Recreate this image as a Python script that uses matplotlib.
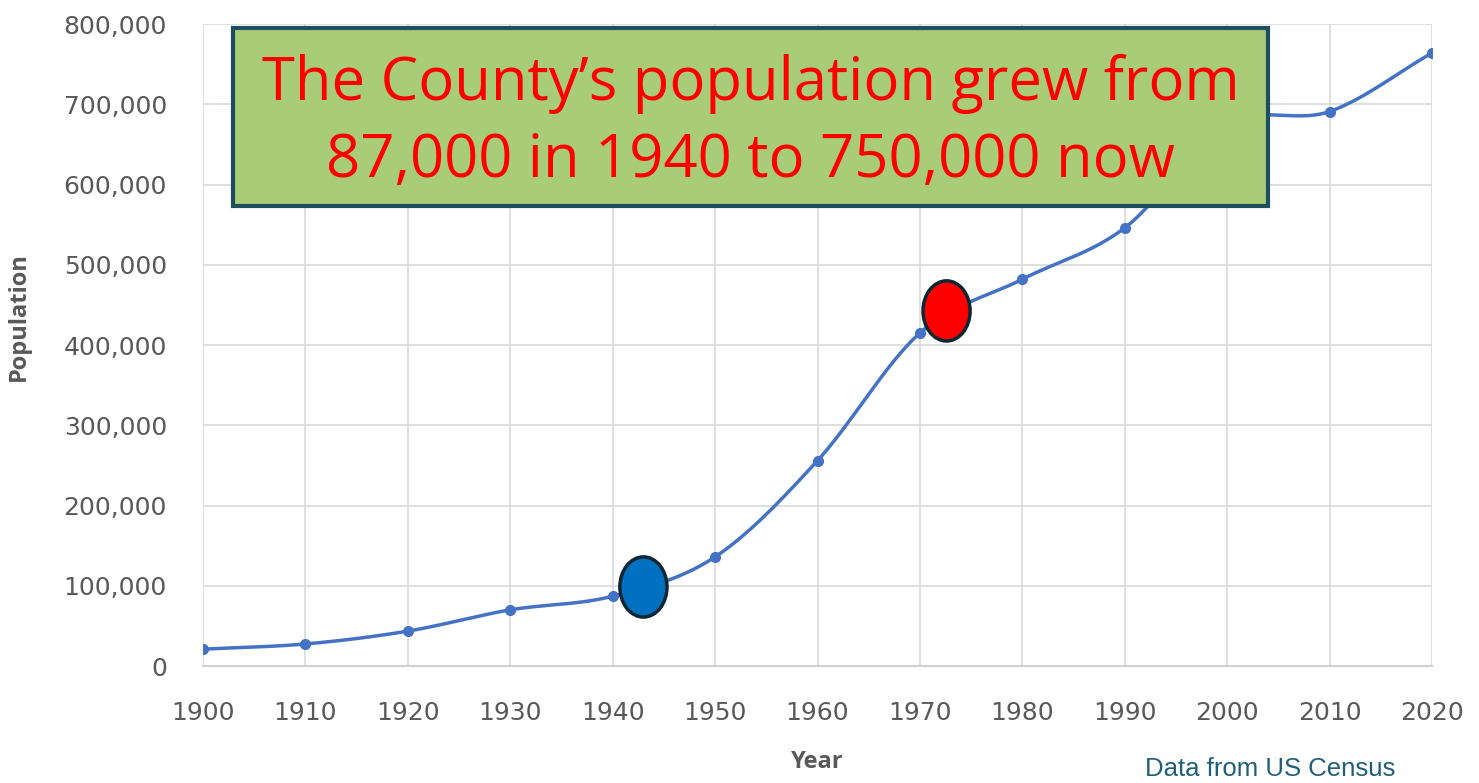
import matplotlib
matplotlib.use("Agg")
import matplotlib.pyplot as plt
from matplotlib.patches import Ellipse, Rectangle
from matplotlib.ticker import FuncFormatter
import numpy as np

years = [1900, 1910, 1920, 1930, 1940, 1950, 1960, 1970, 1980, 1990, 2000, 2010, 2020]
population = [21000, 27500, 43500, 70000, 87000, 136000, 256000, 415000,
              482000, 546000, 675000, 691000, 764000]
y_ticks = [0, 100000, 200000, 300000, 400000, 500000, 600000, 700000, 800000]

# highlight ellipses: (year, population, fill colour)
highlights = [(1943, 98500, "#0070C0"), (1972.6, 442500, "#FF0000")]

callout = "The County\u2019s population grew from\n87,000 in 1940 to 750,000 now"
source_note = "Data from US Census"


def smooth(x, y, n=30):
    # catmull-rom style curve through the points, like Excel's smoothed line
    x = np.asarray(x, float)
    y = np.asarray(y, float)
    px = np.concatenate([[2 * x[0] - x[1]], x, [2 * x[-1] - x[-2]]])
    py = np.concatenate([[2 * y[0] - y[1]], y, [2 * y[-1] - y[-2]]])
    xs, ys = [], []
    t = np.linspace(0, 1, n)
    for i in range(1, len(px) - 2):
        for p, out in ((px, xs), (py, ys)):
            p0, p1, p2, p3 = p[i - 1], p[i], p[i + 1], p[i + 2]
            m1 = (p2 - p0) / 2
            m2 = (p3 - p1) / 2
            h00 = 2 * t**3 - 3 * t**2 + 1
            h10 = t**3 - 2 * t**2 + t
            h01 = -2 * t**3 + 3 * t**2
            h11 = t**3 - t**2
            out.extend(h00 * p1 + h10 * m1 + h01 * p2 + h11 * m2)
    return np.array(xs), np.array(ys)


fig = plt.figure(figsize=(14.79, 7.83), dpi=100)
ax = fig.add_axes([0.1373, 0.1494, 0.8309, 0.8199])

sx, sy = smooth(years, population)
ax.plot(sx, sy, color="#4472C4", lw=2.5, zorder=3)
ax.plot(years, population, "o", color="#4472C4", ms=7, zorder=4)

ax.set_xlim(1900, 2020)
ax.set_ylim(0, 800000)
ax.set_xticks(years)
ax.set_yticks(y_ticks)
ax.yaxis.set_major_formatter(FuncFormatter(lambda v, p: f"{int(v):,}"))
ax.grid(True, color="#D9D9D9", lw=1.2)
ax.set_axisbelow(True)
for s in ["top", "right", "left"]:
    ax.spines[s].set_visible(False)
ax.spines["bottom"].set_color("#D0D0D0")
ax.spines["bottom"].set_linewidth(1.5)
ax.tick_params(length=0, labelsize=18, labelcolor="#595959")
ax.tick_params(axis="x", pad=25)
ax.tick_params(axis="y", pad=26)

ax.set_xlabel("Year", fontsize=17, fontweight="bold", color="#595959",
              family="Open Sans", labelpad=18)
ax.set_ylabel("Population", fontsize=17, fontweight="bold", color="#595959",
              family="Open Sans")
ax.yaxis.set_label_coords(-0.14, 0.545)

for hx, hy, col in highlights:
    ax.add_patch(Ellipse((hx, hy), 4.6, 75000, facecolor=col,
                         edgecolor="#0D2633", lw=2.5, zorder=5, clip_on=False))

# callout box
fig.patches.append(Rectangle((233 / 1479, 1 - 206 / 783), 1035 / 1479, 178 / 783,
                             transform=fig.transFigure, facecolor="#A9CC78",
                             edgecolor="#1F4E5F", lw=3, zorder=10))
fig.text(0.5074, 0.844, callout, ha="center", va="center", fontsize=43,
         color="#FF0000", family="Open Sans", linespacing=1.37, zorder=11)

fig.text(0.8587, 0.003, source_note, ha="center", va="bottom", fontsize=18.5,
         color="#1F5F7A", family="Liberation Sans")

fig.savefig("out.png", dpi=100)
